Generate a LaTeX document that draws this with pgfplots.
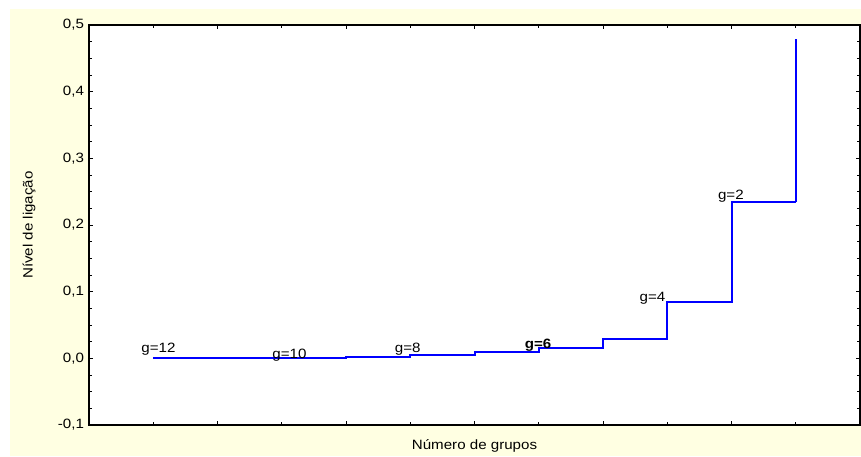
\documentclass[border=0pt]{standalone}
\usepackage{pgfplots}
\pgfplotsset{compat=1.18}
\usepackage{fontspec}
\setmainfont{Liberation Sans}[FakeStretch=1.12]
\definecolor{bgyellow}{RGB}{255,255,226}
\definecolor{lineblue}{RGB}{0,0,255}
\begin{document}
\begin{tikzpicture}[x=1pt,y=1pt]
\useasboundingbox (0,0) rectangle (861,456);
\fill[bgyellow] (10,0) rectangle (861,447);
\begin{axis}[
  at={(89pt,31pt)}, anchor=south west,
  scale only axis, width=771pt, height=400pt,
  xmin=0, xmax=12, ymin=-0.1, ymax=0.5,
  axis background/.style={fill=white},
  axis line style={line width=1.4pt, black},
  tick align=inside,
  xtick={2,4,6,8,10}, minor xtick={1,3,5,7,9,11},
  xticklabels={},
  ytick={-0.1,0,0.1,0.2,0.3,0.4,0.5},
  minor y tick num=3,
  major tick length=4pt, minor tick length=3pt,
  tick style={black, line width=0.8pt},
  font=\fontsize{13.5}{16}\selectfont,
  /pgf/number format/use comma,
  /pgf/number format/fixed,
  /pgf/number format/fixed zerofill,
  /pgf/number format/precision=1,
  /pgf/number format/assume math mode=true,
  yticklabel style={xshift=-1.5pt},
  xlabel={Número de grupos},
  ylabel={Nível de ligação},
  xlabel style={at={(axis description cs:0.5,0)}, anchor=base, yshift=-24pt},
  ylabel style={at={(axis description cs:-0.0778,0.5)}, anchor=center},
  clip=false,
]
\addplot[color=lineblue, line width=2pt, const plot, mark=none, line join=miter] coordinates {
  (1,0.001) (2,0.001) (3,0.001) (4,0.002) (5,0.0045) (6,0.0094) (7,0.015) (8,0.0284) (9,0.085) (10,0.2346) (11,0.2346)
};
\addplot[color=lineblue, line width=2pt, mark=none] coordinates {(11,0.2346) (11,0.4786)};
\node[anchor=base, inner sep=0] at (axis cs:1.08,0.0085) {g=12};
\node[anchor=base, inner sep=0] at (axis cs:3.12,-0.0005) {g=10};
\node[anchor=base, inner sep=0] at (axis cs:4.96,0.0085) {g=8};
\node[anchor=base, inner sep=0, font=\fontsize{13.5}{16}\selectfont\bfseries] at (axis cs:6.99,0.015) {g=6};
\node[anchor=base, inner sep=0] at (axis cs:8.77,0.0858) {g=4};
\node[anchor=base, inner sep=0] at (axis cs:9.99,0.238) {g=2};
\end{axis}
\end{tikzpicture}
\end{document}
